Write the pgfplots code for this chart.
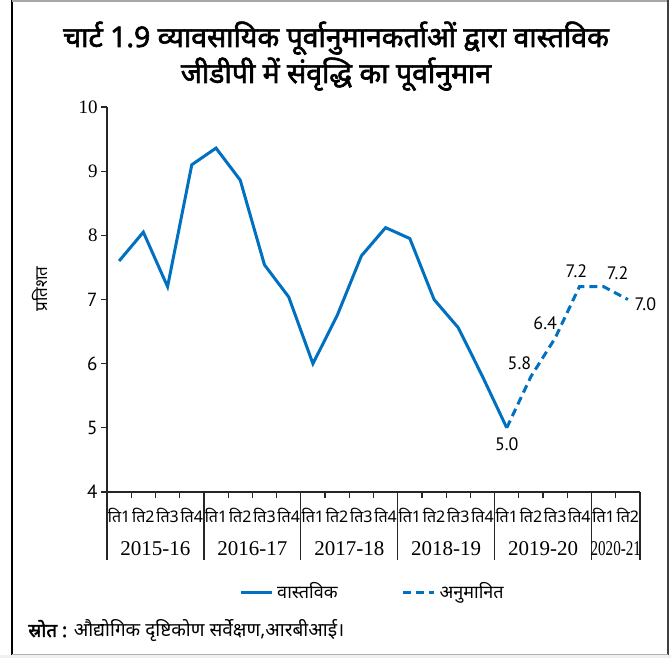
\documentclass[border=0pt]{standalone}
\usepackage{pgfplots}
\pgfplotsset{compat=1.18}
\usepackage{graphicx}
\usepackage{fontspec}
\setmainfont{Liberation Serif}
\newfontfamily\deva[Script=Devanagari]{Noto Sans}
\newfontfamily\devabold[Script=Devanagari,FakeBold=2.2]{Noto Sans}
\newfontfamily\numsans{PT Sans}
\definecolor{gdpblue}{RGB}{0,112,192}

\begin{document}
\begin{tikzpicture}
% page frame, title and source line (1 unit = 1 px of a 671 x 658 canvas)
\begin{scope}[x=0.5pt,y=-0.5pt]
  \useasboundingbox (0,0) rectangle (671,658);
  \fill[gray!12] (0,655) rectangle (671,658);
  \draw[black, line width=0.6pt] (12,0) -- (12,655);
  \draw[gray!70, line width=0.6pt] (12,1) -- (668,1);
  \draw[black!75, line width=1.2pt] (668,0) -- (668,655);
  \draw[gray!60, line width=0.5pt] (12,655) -- (668,655);
  \node[anchor=base, font=\devabold\fontsize{14.2}{16}\selectfont, inner sep=0pt]
    at (336,47) {चार्ट 1.9 व्यावसायिक पूर्वानुमानकर्ताओं द्वारा वास्तविक};
  \node[anchor=base, font=\devabold\fontsize{14.2}{16}\selectfont, inner sep=0pt]
    at (336,83) {जीडीपी में संवृद्धि का पूर्वानुमान};
  \node[anchor=base west, font=\deva\fontsize{9.5}{11}\selectfont, inner sep=0pt]
    at (28,637) {{\devabold स्रोत :} औद्योगिक दृष्टिकोण सर्वेक्षण,आरबीआई।};
  \node[rotate=90, font=\deva\fontsize{8.5}{10}\selectfont, inner sep=0pt]
    at (40,289) {प्रतिशत};
\end{scope}

\begin{axis}[
  at={(53.5pt,-246pt)}, anchor=south west,
  scale only axis, width=266.5pt, height=192.5pt,
  xmin=0, xmax=22, ymin=4, ymax=10,
  axis lines*=left,
  axis line style={line width=0.6pt, black!85},
  tick align=outside, major tick length=3pt,
  tick style={black!85, line width=0.6pt},
  xtick={0,...,22}, xticklabels={},
  extra x ticks={0.5,1.5,...,21.5},
  extra x tick labels={ति1,ति2,ति3,ति4,ति1,ति2,ति3,ति4,ति1,ति2,ति3,ति4,ति1,ति2,ति3,ति4,ति1,ति2,ति3,ति4,ति1,ति2},
  extra x tick style={major tick length=0pt,
    xticklabel style={font=\deva\fontsize{8}{9}\selectfont, anchor=base, inner sep=0pt, yshift=-15pt}},
  ytick={4,...,10},
  yticklabels={{\numsans 4},{\numsans 5},{\numsans 6},{\numsans 7},8,9,10},
  yticklabel style={font=\fontsize{9.5}{10}\selectfont, inner sep=1.5pt},
  clip=false,
  legend style={at={(0.5,-0.26)}, anchor=center, draw=none, fill=none,
    legend columns=2, font=\deva\fontsize{9}{10}\selectfont,
    /tikz/every even column/.append style={column sep=30pt}},
  legend image code/.code={\draw[#1] (0pt,0pt) -- (15.5pt,0pt);},
]
% actual growth
\addplot[gdpblue, line width=1.5pt] coordinates {
  (0.5,7.6) (1.5,8.05) (2.5,7.2) (3.5,9.1)
  (4.5,9.36) (5.5,8.86) (6.5,7.54) (7.5,7.04)
  (8.5,6.0) (9.5,6.75) (10.5,7.68) (11.5,8.12)
  (12.5,7.95) (13.5,7.0) (14.5,6.56) (15.5,5.8)
  (16.5,5.0)};
\addlegendentry{वास्तविक}
% professional forecasters' projections
\addplot[gdpblue, line width=1.5pt, dash pattern=on 4pt off 2.5pt] coordinates {
  (16.5,5.0) (17.5,5.8) (18.5,6.4) (19.5,7.2) (20.5,7.2) (21.5,7.0)};
\addlegendentry{अनुमानित}

% value labels
\begin{scope}[every node/.style={font=\numsans\fontsize{9}{10}\selectfont, inner sep=0pt}]
  \node[anchor=north] at ([yshift=-4.5pt]axis cs:16.5,5.0) {5.0};
  \node at ([xshift=-5.75pt,yshift=6.5pt]axis cs:17.5,5.8) {5.8};
  \node at ([xshift=-5pt,yshift=7.5pt]axis cs:18.5,6.4) {6.4};
  \node at ([xshift=-1.5pt,yshift=7.5pt]axis cs:19.5,7.2) {7.2};
  \node at ([xshift=7pt,yshift=6.5pt]axis cs:20.5,7.2) {7.2};
  \node at ([xshift=8.75pt,yshift=-2.5pt]axis cs:21.5,7.0) {7.0};
\end{scope}

% fiscal-year separators and labels
\pgfplotsinvokeforeach{0,4,8,12,16,20,22}{
  \draw[black!85, line width=0.6pt] (axis cs:#1,4) -- ([yshift=-34pt]axis cs:#1,4);
}
\begin{scope}[every node/.style={font=\fontsize{10.5}{11}\selectfont, inner sep=0pt, anchor=base}]
  \node at ([yshift=-31.5pt]axis cs:2,4) {2015-16};
  \node at ([yshift=-31.5pt]axis cs:6,4) {2016-17};
  \node at ([yshift=-31.5pt]axis cs:10,4) {2017-18};
  \node at ([yshift=-31.5pt]axis cs:14,4) {2018-19};
  \node at ([yshift=-31.5pt]axis cs:18,4) {2019-20};
  \node at ([yshift=-31.5pt]axis cs:21,4) {\scalebox{0.72}[1]{2020-21}};
\end{scope}
\end{axis}
\end{tikzpicture}
\end{document}
